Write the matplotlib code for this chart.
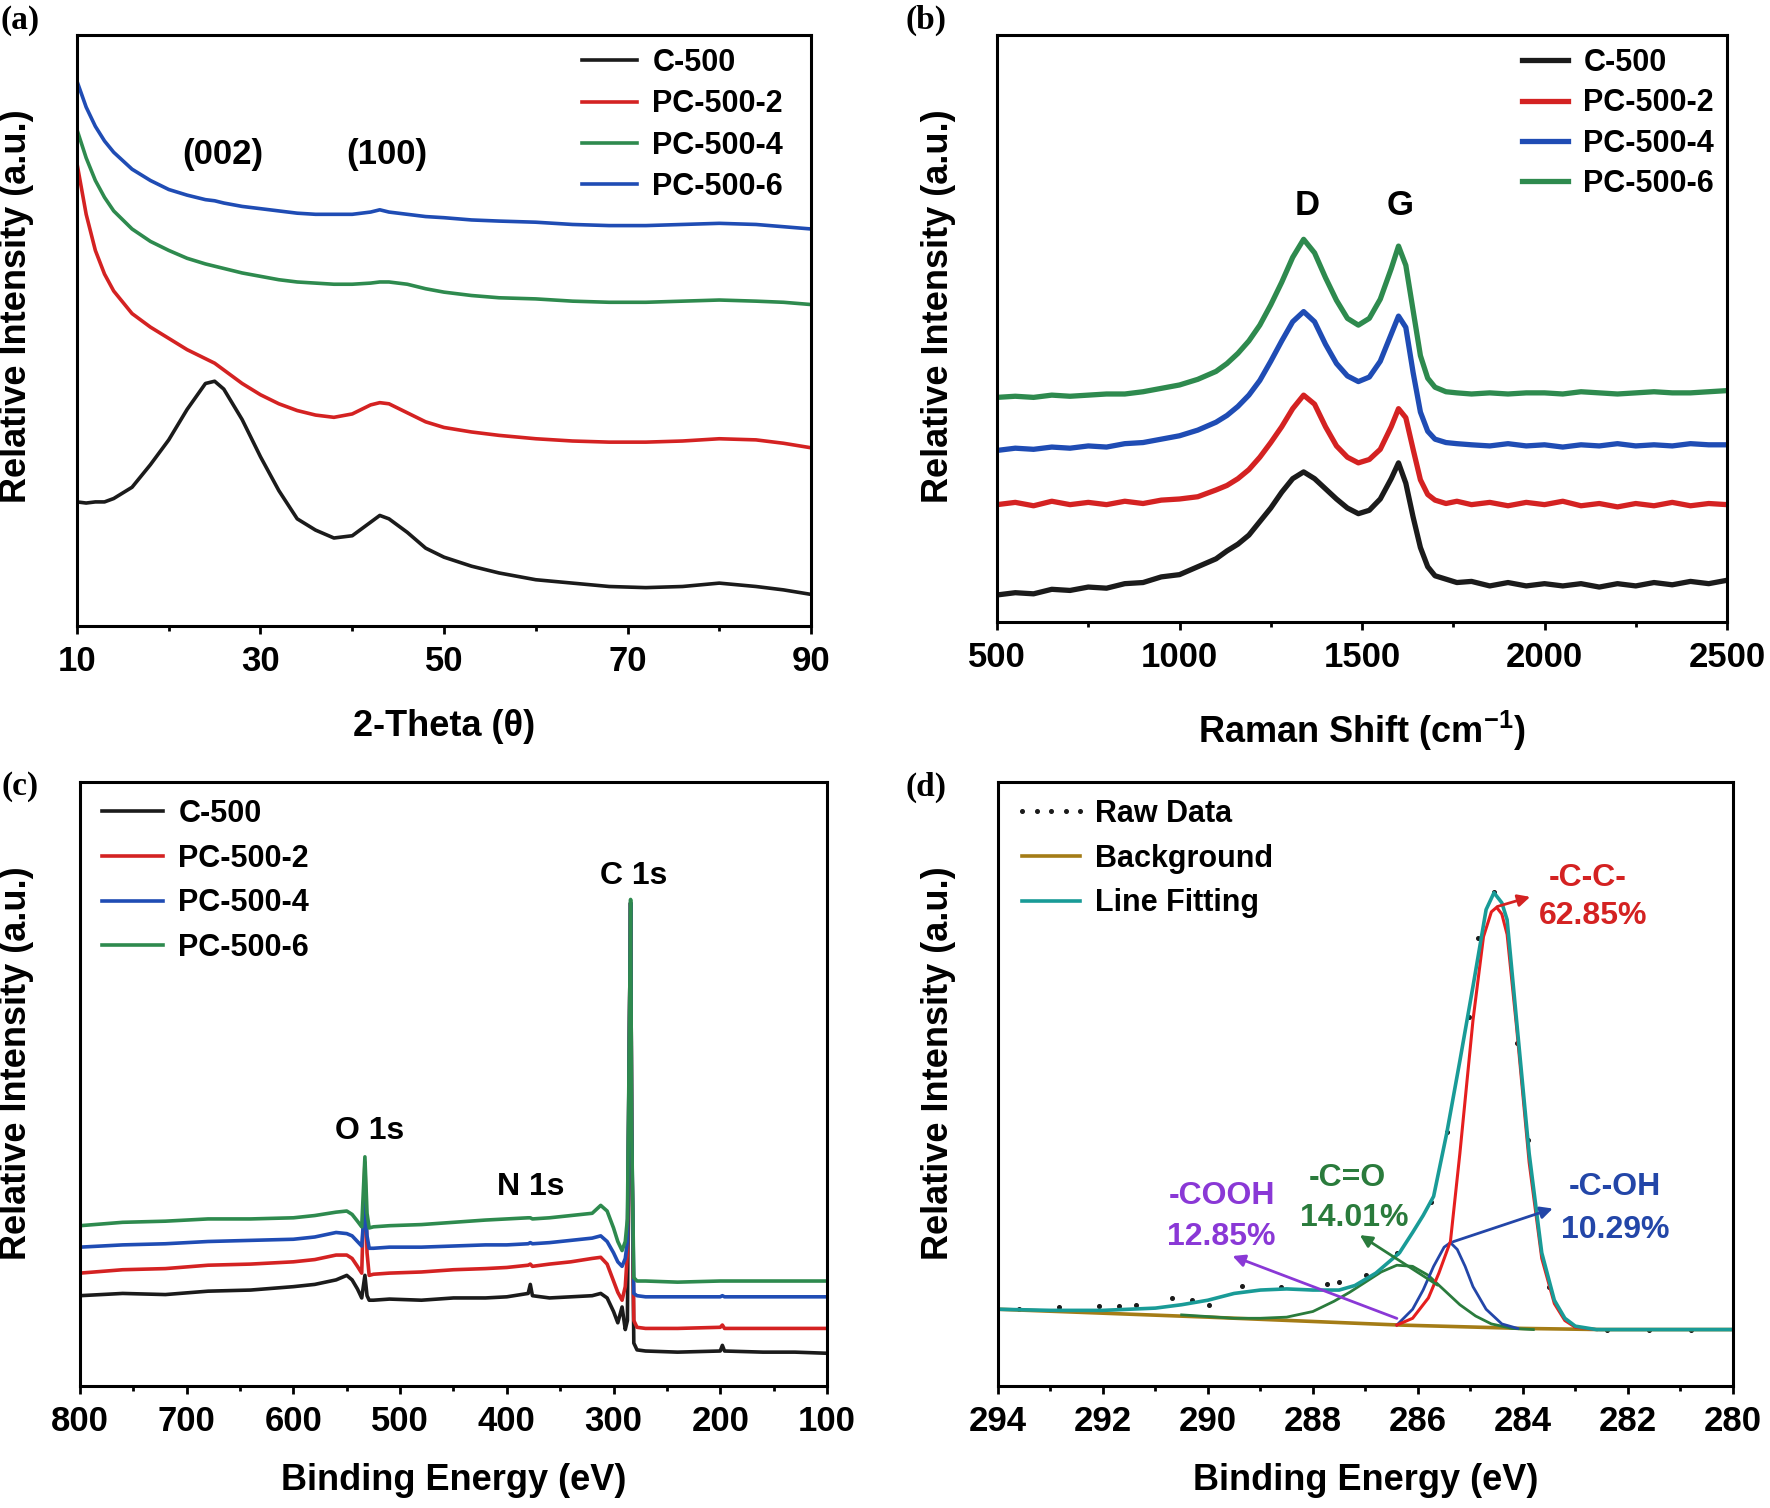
import matplotlib
matplotlib.use("Agg")
import matplotlib.pyplot as plt
from matplotlib.ticker import FixedLocator

plt.rcParams["font.family"] = ["Liberation Sans", "DejaVu Sans"]
plt.rcParams["font.weight"] = "bold"
plt.rcParams["mathtext.default"] = "regular"

# ---------------- (a) XRD ----------------
xrd_x = [10, 11, 12, 13, 14, 16, 18, 20, 22, 24, 25, 26, 28, 30, 32, 34, 36, 38,
         40, 42, 43, 44, 46, 48, 50, 53, 56, 60, 64, 68, 72, 76, 80, 84, 87, 90]
xrd_c500 = [107, 106, 107, 107, 110, 120, 140, 162, 189, 212, 214, 207, 180, 147, 117, 92, 82, 75,
            77, 89, 95, 92, 80, 66, 58, 50, 44, 38, 35, 32, 31, 32, 35, 32, 29, 25]
xrd_pc2 = [407, 362, 330, 309, 294, 274, 262, 252, 242, 234, 230, 224, 212, 202, 194, 188, 184, 182,
           185, 193, 195, 194, 186, 178, 173, 169, 166, 163, 161, 160, 160, 161, 163, 162, 159, 155]
xrd_pc4 = [437, 412, 392, 377, 365, 349, 338, 330, 323, 318, 316, 314, 310, 307, 304, 302, 301, 300,
           300, 301, 302, 302, 300, 296, 293, 290, 288, 287, 285, 284, 284, 285, 286, 285, 284, 282]
xrd_pc6 = [480, 457, 440, 427, 417, 402, 392, 384, 379, 375, 374, 372, 369, 367, 365, 363, 362, 362,
           362, 364, 366, 364, 362, 360, 359, 357, 356, 355, 353, 352, 352, 353, 354, 353, 351, 349]

# ---------------- (b) Raman ----------------
raman_x = [500, 550, 600, 650, 700, 750, 800, 850, 900, 950, 1000, 1050, 1100, 1130, 1160, 1190,
           1220, 1250, 1280, 1310, 1340, 1370, 1400, 1430, 1460, 1490, 1520, 1550, 1580, 1600,
           1620, 1640, 1660, 1680, 1700, 1730, 1760, 1800, 1850, 1900, 1950, 2000, 2050, 2100,
           2150, 2200, 2250, 2300, 2350, 2400, 2450, 2500]
raman_c500 = [21, 23, 22, 26, 25, 28, 27, 31, 32, 37, 39, 46, 53, 60, 66, 74,
              86, 98, 112, 124, 130, 124, 115, 106, 98, 93, 96, 106, 124, 138,
              120, 90, 63, 46, 38, 35, 32, 33, 29, 32, 29, 31, 29, 31,
              28, 31, 29, 32, 30, 33, 31, 34]
raman_pc2 = [101, 103, 100, 104, 101, 103, 101, 104, 102, 105, 106, 108, 114, 118, 124, 132,
             143, 156, 170, 186, 198, 190, 170, 153, 143, 138, 141, 150, 170, 186,
             178, 150, 123, 110, 105, 102, 104, 101, 103, 100, 103, 101, 104, 100,
             102, 99, 102, 100, 103, 100, 102, 101]
raman_pc4 = [149, 151, 150, 152, 151, 153, 152, 155, 156, 159, 162, 167, 174, 180, 188, 198,
             211, 228, 246, 263, 272, 263, 243, 226, 215, 210, 214, 228, 252, 268,
             258, 218, 183, 166, 159, 156, 155, 154, 153, 155, 153, 154, 152, 154,
             153, 155, 153, 154, 153, 155, 154, 154]
raman_pc6 = [196, 197, 196, 198, 197, 198, 199, 199, 201, 204, 207, 212, 219, 226, 235, 246,
             260, 278, 298, 320, 336, 324, 302, 282, 266, 260, 266, 283, 310, 330,
             313, 273, 233, 213, 205, 201, 200, 199, 200, 199, 200, 200, 199, 201,
             200, 199, 200, 201, 200, 200, 201, 202]

# ---------------- (c) XPS survey ----------------
xps_x = [800, 760, 720, 680, 640, 600, 580, 560, 550, 545, 540, 536, 533, 531, 529, 525, 510,
         480, 450, 420, 400, 380, 378, 376, 360, 340, 320, 312, 306, 300, 296, 292, 289, 287,
         285, 284, 283, 281, 278, 270, 240, 200, 198, 196, 160, 130, 100]
xps_c500 = [92, 94, 93, 96, 97, 100, 102, 106, 110, 106, 98, 90, 110, 92, 88, 88, 89,
            88, 90, 90, 91, 94, 102, 92, 90, 91, 92, 94, 90, 78, 68, 82, 62, 70,
            340, 440, 240, 50, 44, 43, 42, 43, 48, 43, 42, 42, 41]
xps_pc2 = [112, 115, 116, 119, 120, 122, 124, 128, 128, 125, 118, 112, 210, 130, 110, 111, 112,
           113, 115, 116, 117, 119, 120, 118, 120, 122, 125, 126, 120, 105, 95, 88, 100, 130,
           340, 440, 240, 70, 64, 63, 63, 64, 66, 63, 63, 63, 63]
xps_pc4 = [135, 137, 138, 140, 141, 142, 144, 148, 147, 145, 140, 136, 175, 145, 134, 134, 135,
           135, 136, 137, 137, 138, 139, 138, 139, 141, 143, 145, 140, 130, 122, 118, 125, 140,
           340, 440, 240, 94, 92, 91, 91, 91, 92, 91, 91, 91, 91]
xps_pc6 = [154, 157, 158, 160, 160, 161, 163, 166, 167, 164, 158, 153, 215, 165, 152, 153, 154,
           155, 157, 159, 160, 161, 161, 160, 161, 163, 165, 172, 167, 152, 140, 132, 140, 160,
           340, 443, 240, 108, 105, 105, 104, 105, 105, 105, 105, 105, 105]

# ---------------- (d) C 1s fitting ----------------
raw_x = [293.6, 292.84, 292.07, 291.7, 291.37, 290.68, 290.3, 289.98, 289.35, 288.6, 287.73,
         287.5, 286.98, 286.4, 285.75, 285.45, 285.02, 284.85, 284.55, 284.12, 283.9, 283.5,
         283.0, 282.4, 281.6, 280.8]
raw_y = [80, 82, 83, 83, 84, 90, 88, 84, 101, 100, 102, 104, 110, 130, 175, 237, 339, 409,
         450, 316, 230, 100, 64, 62, 62, 62]
bg_x = [294, 290, 286.35, 284, 282.5, 280]
bg_y = [80, 73, 66, 63, 62, 62]
fit_x = [294, 293, 292, 291, 290.5, 290, 289.5, 289, 288.5, 288, 287.5, 287.2, 286.8, 286.35,
         286.1, 285.9, 285.7, 285.45, 285.2, 284.95, 284.7, 284.55, 284.4, 284.3, 284.12,
         283.88, 283.64, 283.4, 283.2, 283, 282.6, 282, 280]
fit_y = [80, 79, 79, 81, 84, 88, 94, 97, 98, 97, 97, 101, 112, 130,
         148, 163, 180, 236, 300, 366, 434, 449, 440, 425, 336,
         218, 130, 88, 72, 65, 62, 62, 62]
cc_x = [286.4, 286.1, 285.8, 285.6, 285.38, 285.2, 284.95, 284.75, 284.6, 284.5, 284.4, 284.3,
        284.12, 283.88, 283.64, 283.4, 283.2, 283, 282.6]
cc_y = [66, 72, 90, 112, 140, 218, 336, 410, 432, 436, 430, 412, 330, 210, 125, 85, 70, 64, 62]
co_x = [290.5, 289.5, 289, 288.5, 288, 287.6, 287.3, 287, 286.7, 286.4, 286.1, 285.8, 285.5,
        285.2, 284.9, 284.6, 284.2, 283.8]
co_y = [75, 72, 72, 73, 78, 87, 95, 104, 113, 119, 118, 110, 97, 84, 74, 67, 63, 62]
coh_x = [286.4, 286.1, 285.9, 285.7, 285.5, 285.38, 285.25, 285.1, 284.95, 284.7, 284.4, 284.1]
coh_y = [66, 80, 97, 118, 135, 139, 133, 118, 100, 80, 67, 63]

samples = ["C-500", "PC-500-2", "PC-500-4", "PC-500-6"]

BLACK = "#1b1b1b"
RED = "#d42222"
GREEN = "#2e8a4e"
BLUE = "#1f4cb4"
TEAL = "#199b97"
BG = "#a47c16"
PURPLE = "#8a38d6"
DGREEN = "#2a7b3c"
DBLUE = "#2346a8"

LW = 2.6
FS_TICK = 25
FS_LAB = 26
FS_PEAK = 25
FS_NOTE = 23
FS_LEG = 22


def style_axes(ax, major, minor):
    for sp in ax.spines.values():
        sp.set_linewidth(2.2)
    ax.set_yticks([])
    ax.xaxis.set_major_locator(FixedLocator(major))
    ax.xaxis.set_minor_locator(FixedLocator(minor))
    ax.tick_params(axis="x", which="major", direction="out", length=6, width=2,
                   labelsize=FS_TICK, pad=8)
    ax.tick_params(axis="x", which="minor", direction="out", length=3.5, width=2)
    for lab in ax.get_xticklabels():
        lab.set_fontweight("bold")


def add_legend(ax, anchor, spacing, hlen):
    leg = ax.legend(loc="upper left", bbox_to_anchor=anchor, bbox_transform=fig.transFigure,
                    frameon=False, borderpad=0, borderaxespad=0, handlelength=hlen,
                    handletextpad=0.2, labelspacing=spacing, numpoints=5,
                    prop={"size": FS_LEG, "weight": "bold"})
    return leg


fig = plt.figure(figsize=(17.7, 15.08), dpi=100)

ax_a = fig.add_axes([0.0435, 0.5849, 0.4147, 0.3919])
ax_b = fig.add_axes([0.5633, 0.5875, 0.4124, 0.3893])
ax_c = fig.add_axes([0.0452, 0.0809, 0.4220, 0.4005])
ax_d = fig.add_axes([0.5638, 0.0809, 0.4152, 0.4005])

# (a)
for y, c, lab in zip([xrd_c500, xrd_pc2, xrd_pc4, xrd_pc6], [BLACK, RED, GREEN, BLUE], samples):
    ax_a.plot(xrd_x, y, color=c, lw=LW, label=lab)
ax_a.set_xlim(10, 90)
ax_a.set_ylim(-3, 521)
style_axes(ax_a, [10, 30, 50, 70, 90], [20, 40, 60, 80])
ax_a.text(25.9, 415, "(002)", fontsize=FS_PEAK, ha="center", va="center", fontweight="bold")
ax_a.text(43.8, 415, "(100)", fontsize=FS_PEAK, ha="center", va="center", fontweight="bold")
add_legend(ax_a, (0.3237, 0.9682), 0.37, 2.4)

# (b)
for y, c, lab in zip([raman_c500, raman_pc2, raman_pc4, raman_pc6], [BLACK, RED, BLUE, GREEN], samples):
    ax_b.plot(raman_x, y, color=c, lw=3.8, label=lab)
ax_b.set_xlim(500, 2500)
ax_b.set_ylim(-3, 517)
style_axes(ax_b, [500, 1000, 1500, 2000, 2500], [750, 1250, 1750, 2250])
ax_b.text(1350, 366, "D", fontsize=FS_PEAK, ha="center", va="center", fontweight="bold")
ax_b.text(1604, 366, "G", fontsize=FS_PEAK, ha="center", va="center", fontweight="bold")
add_legend(ax_b, (0.8548, 0.9682), 0.34, 2.1)

# (c)
for y, c, lab in zip([xps_c500, xps_pc2, xps_pc4, xps_pc6], [BLACK, RED, BLUE, GREEN], samples):
    ax_c.plot(xps_x, y, color=c, lw=LW, label=lab)
ax_c.set_xlim(800, 100)
ax_c.set_ylim(12, 547)
style_axes(ax_c, list(range(800, 99, -100)), list(range(750, 100, -100)))
ax_c.text(281, 464, "C 1s", fontsize=FS_NOTE, ha="center", va="center", fontweight="bold")
ax_c.text(529, 238, "O 1s", fontsize=FS_NOTE, ha="center", va="center", fontweight="bold")
ax_c.text(378, 188, "N 1s", fontsize=FS_NOTE, ha="center", va="center", fontweight="bold")
add_legend(ax_c, (0.0525, 0.4702), 0.48, 2.6)

# (d)
ax_d.plot(raw_x, raw_y, ls="none", marker="o", ms=2.6, color=BLACK, label="Raw Data")
ax_d.plot(bg_x, bg_y, color=BG, lw=LW, label="Background")
ax_d.plot(co_x, co_y, color=DGREEN, lw=2.0)
ax_d.plot(coh_x, coh_y, color=DBLUE, lw=2.0)
ax_d.plot(cc_x, cc_y, color="#e51e1e", lw=2.2)
ax_d.plot(fit_x, fit_y, color=TEAL, lw=LW, label="Line Fitting")
ax_d.set_xlim(294, 280)
ax_d.set_ylim(12, 547)
style_axes(ax_d, list(range(294, 279, -2)), list(range(293, 280, -2)))
add_legend(ax_d, (0.5723, 0.4702), 0.48, 2.5)

arrows = [
    ((284.54, 436), (283.81, 446), RED),
    ((285.38, 139), (283.38, 170), DBLUE),
    ((285.58, 100), (287.15, 147), DGREEN),
    ((286.35, 71), (289.58, 128), PURPLE),
]
for tail, tip, c in arrows:
    ax_d.annotate("", xy=tip, xytext=tail,
                  arrowprops=dict(arrowstyle="-|>", color=c, lw=2.0, mutation_scale=18))

labels_d = [
    (282.76, 462, "-C-C-", RED), (282.67, 428, "62.85%", RED),
    (282.24, 188, "-C-OH", DBLUE), (282.24, 150, "10.29%", DBLUE),
    (287.34, 196, "-C=O", DGREEN), (287.22, 161, "14.01%", DGREEN),
    (289.74, 180, "-COOH", PURPLE), (289.74, 144, "12.85%", PURPLE),
]
for x, y, s, c in labels_d:
    ax_d.text(x, y, s, color=c, fontsize=FS_NOTE, ha="center", va="center", fontweight="bold")

# axis titles
W, H = 1770.0, 1508.0
ylab = "Relative Intensity (a.u.)"
for px, py in [(17, 306), (939, 306), (17, 1063), (939, 1063)]:
    fig.text(px / W, 1 - py / H, ylab, rotation=90, ha="center", va="center",
             fontsize=FS_LAB, fontweight="bold")
fig.text(444 / W, 1 - 726 / H, "2-Theta (\u03b8)", ha="center", va="center",
         fontsize=FS_LAB, fontweight="bold")
fig.text(1362 / W, 1 - 731 / H, "Raman Shift (cm$^{-1}$)", ha="center", va="center",
         fontsize=FS_LAB, fontweight="bold")
fig.text(454 / W, 1 - 1481 / H, "Binding Energy (eV)", ha="center", va="center",
         fontsize=FS_LAB, fontweight="bold")
fig.text(1366 / W, 1 - 1481 / H, "Binding Energy (eV)", ha="center", va="center",
         fontsize=FS_LAB, fontweight="bold")

# panel letters
for px, py, s in [(20, 20, "(a)"), (926, 20, "(b)"), (20, 787, "(c)"), (926, 787, "(d)")]:
    fig.text(px / W, 1 - py / H, s, ha="center", va="center", fontsize=24,
             fontweight="bold", family="Liberation Serif")

fig.savefig("out.png", dpi=100)
